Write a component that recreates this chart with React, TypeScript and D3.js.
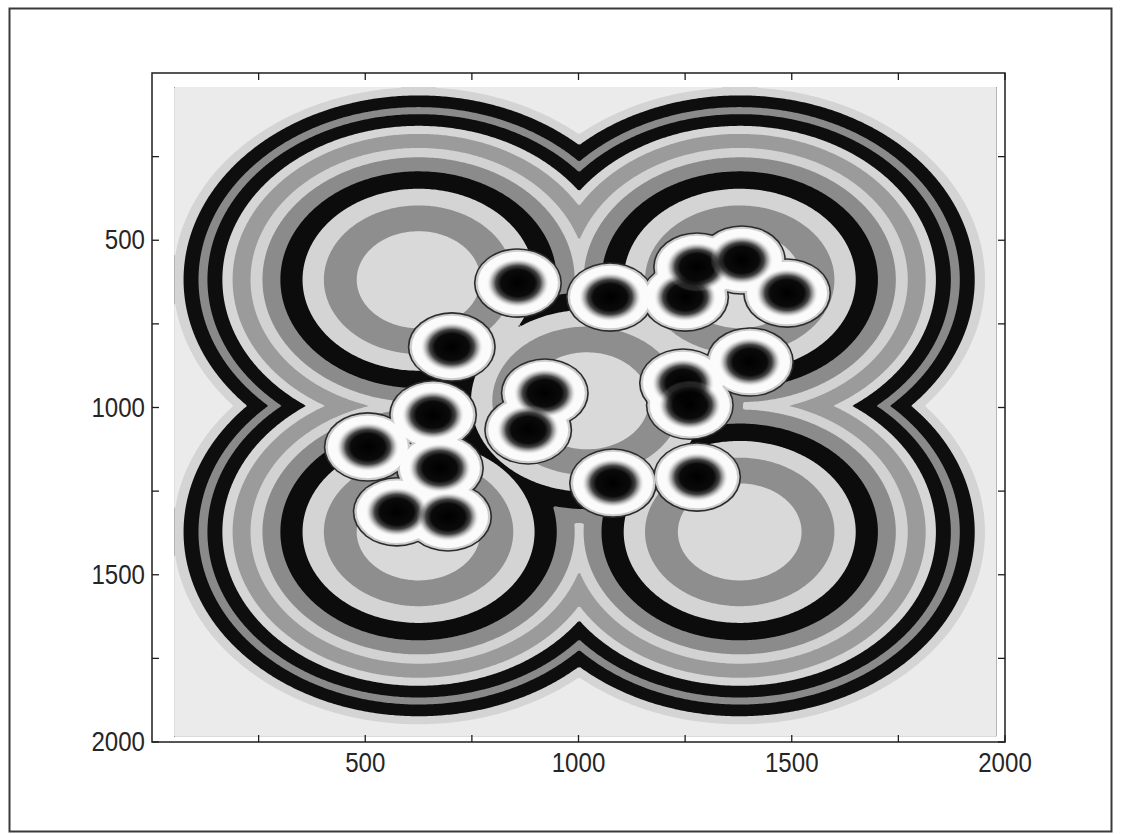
import React, { useMemo } from "react";
import * as d3 from "d3";

// Axis ticks (image pixel coordinates, y grows downward)
const xTicks = [250, 500, 750, 1000, 1250, 1500, 1750, 2000];
const yTicks = [250, 500, 750, 1000, 1250, 1500, 1750, 2000];
const labeledTicks = [500, 1000, 1500, 2000];

// Attractor centres of the potential field: four lobes plus a central one
const lobeX = [625, 1378, 625, 1378, 1020];
const lobeY = [618, 618, 1372, 1372, 980];

// Band boundaries of the field (distance to nearest attractor) and their grey levels
const bandLevels = [145, 222, 272, 324, 366, 394, 436, 460, 495, 516, 551, 575];
const bandGrays = [
  "#d9d9d9", "#8e8e8e", "#d4d4d4", "#0c0c0c", "#8b8b8b", "#d2d2d2", "#9b9b9b",
  "#d6d6d6", "#0e0e0e", "#8a8a8a", "#0e0e0e", "#d4d4d4", "#ebebeb",
];

// Circular obstacles (centres in image pixels)
const obstacleX = [858, 703, 1074, 1250, 1278, 1383, 1489, 1402, 1245, 1261, 921, 882, 659, 506, 675, 574, 694, 1081, 1278];
const obstacleY = [628, 819, 670, 670, 580, 559, 658, 864, 927, 993, 957, 1067, 1022, 1118, 1181, 1312, 1327, 1226, 1208];
const obstacleRadius = 100;

// Extent of the rendered field
const fieldX = [52, 1980];
const fieldY = [42, 1984];

const W = 1123;
const H = 834;

export default function App() {
  const x = d3.scaleLinear().domain([0, 2000]).range([152, 1005]);
  const y = d3.scaleLinear().domain([0, 2000]).range([73, 742]);

  const bands = useMemo(() => {
    const nx = 390;
    const ny = 390;
    const sx = (fieldX[1] - fieldX[0]) / nx;
    const sy = (fieldY[1] - fieldY[0]) / ny;
    const values = new Float64Array(nx * ny);
    for (let j = 0; j < ny; j++) {
      const py = fieldY[0] + (j + 0.5) * sy;
      for (let i = 0; i < nx; i++) {
        const px = fieldX[0] + (i + 0.5) * sx;
        let m = Infinity;
        for (let k = 0; k < lobeX.length; k++) {
          const d = Math.hypot(px - lobeX[k], py - lobeY[k]);
          if (d < m) m = d;
        }
        values[j * nx + i] = m;
      }
    }
    const contours = d3.contours().size([nx, ny]).thresholds(bandLevels)(Array.from(values));
    const proj = d3.geoTransform({
      point(gx: number, gy: number) {
        (this as any).stream.point(
          x(fieldX[0] + gx * sx),
          y(fieldY[0] + gy * sy)
        );
      },
    });
    const path = d3.geoPath(proj);
    return contours.map((c, i) => ({ d: path(c) || "", fill: bandGrays[i + 1] }));
  }, []);

  const rx = x(obstacleRadius) - x(0);
  const ry = y(obstacleRadius) - y(0);
  const obstacles = obstacleX.map((ox, i) => ({ cx: x(ox), cy: y(obstacleY[i]) }));

  const left = x(0);
  const right = x(2000);
  const top = y(0);
  const bottom = y(2000);
  const tickLen = 7;
  const axisColor = "#1e1e1e";
  const font = "'Liberation Sans', Arial, sans-serif";

  return (
    <svg
      width={W}
      height={H}
      style={{ position: "absolute", left: 0, top: 0, background: "#ffffff" }}
    >
      <defs>
        <radialGradient id="coreShade" cx="0.5" cy="0.5" r="0.5">
          <stop offset="0" stopColor="#000" stopOpacity="1" />
          <stop offset="0.4" stopColor="#030303" stopOpacity="0.97" />
          <stop offset="0.52" stopColor="#151515" stopOpacity="0.8" />
          <stop offset="0.63" stopColor="#555" stopOpacity="0.35" />
          <stop offset="0.74" stopColor="#fff" stopOpacity="0" />
        </radialGradient>
      </defs>

      {/* figure frame */}
      <rect x={9.5} y={8.5} width={1102} height={823} fill="#fff" stroke="#3a3a3a" strokeWidth={2} />

      {/* field image */}
      <rect
        x={x(fieldX[0])}
        y={y(fieldY[0])}
        width={x(fieldX[1]) - x(fieldX[0])}
        height={y(fieldY[1]) - y(fieldY[0])}
        fill={bandGrays[0]}
      />
      {bands.map((b, i) => (
        <path key={i} d={b.d} fill={b.fill} />
      ))}

      {/* obstacles: merged outline, white body, dark core */}
      <g>
        {obstacles.map((o, i) => (
          <ellipse key={"o" + i} cx={o.cx} cy={o.cy} rx={rx + 1.4} ry={ry + 1.4} fill="#2c2c2c" />
        ))}
        {obstacles.map((o, i) => (
          <ellipse key={"g" + i} cx={o.cx} cy={o.cy} rx={rx - 0.2} ry={ry - 0.2} fill="#cdcdcd" />
        ))}
        {obstacles.map((o, i) => (
          <ellipse key={"w" + i} cx={o.cx} cy={o.cy} rx={rx - 2.6} ry={ry - 2.2} fill="#fbfbfb" />
        ))}
        {obstacles.map((o, i) => (
          <ellipse key={"c" + i} cx={o.cx} cy={o.cy} rx={rx} ry={ry} fill="url(#coreShade)" />
        ))}
      </g>

      {/* axes box */}
      <rect x={left} y={top} width={right - left} height={bottom - top} fill="none" stroke={axisColor} strokeWidth={1.5} />

      {/* ticks, pointing inward on all four sides */}
      {xTicks.map((t) => (
        <g key={"xt" + t} stroke={axisColor} strokeWidth={1.3}>
          <line x1={x(t)} x2={x(t)} y1={bottom} y2={bottom - tickLen} />
          <line x1={x(t)} x2={x(t)} y1={top} y2={top + tickLen} />
        </g>
      ))}
      {yTicks.map((t) => (
        <g key={"yt" + t} stroke={axisColor} strokeWidth={1.3}>
          <line x1={left} x2={left + tickLen} y1={y(t)} y2={y(t)} />
          <line x1={right} x2={right - tickLen} y1={y(t)} y2={y(t)} />
        </g>
      ))}

      {/* tick labels */}
      {labeledTicks.map((t) => (
        <text
          key={"xl" + t}
          transform={`translate(${x(t)},772) scale(0.86,1)`}
          textAnchor="middle"
          fontFamily={font}
          fontSize={28}
          fill="#262626"
        >
          {t}
        </text>
      ))}
      {labeledTicks.map((t) => (
        <text
          key={"yl" + t}
          transform={`translate(145,${y(t) + 9}) scale(0.86,1)`}
          textAnchor="end"
          fontFamily={font}
          fontSize={28}
          fill="#262626"
        >
          {t}
        </text>
      ))}
    </svg>
  );
}
